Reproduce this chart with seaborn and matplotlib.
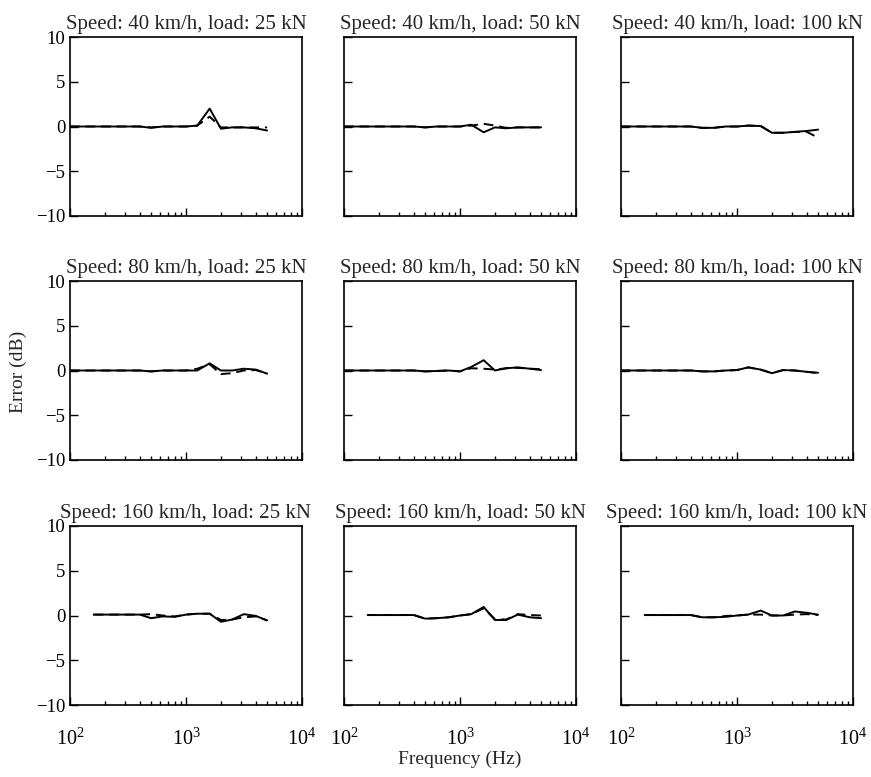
import numpy as np
import pandas as pd
import matplotlib
matplotlib.use("Agg")
import matplotlib.pyplot as plt
import matplotlib.ticker as mticker
import seaborn as sns

sns.set_style("ticks")
plt.rcParams['font.family'] = ['Liberation Serif', 'DejaVu Serif']
plt.rcParams['mathtext.fontset'] = 'stix'

freq_full = [100, 125, 160, 200, 250, 315, 400, 500, 630, 800, 1000, 1250,
             1600, 2000, 2500, 3150, 4000, 5000]
freq_160 = freq_full[2:]

speeds = [40, 80, 160]
loads = [25, 50, 100]

# solid / dashed series, per panel (row = speed, col = load)
s40_25_solid = [0, 0, 0, 0, 0, 0, 0, -0.15, 0, 0, 0, 0.1, 2.0, -0.25, -0.1, -0.1, -0.2, -0.45]
s40_25_dash = [0, 0, 0, 0, 0, 0, 0, -0.1, 0, 0, 0, 0.1, 1.1, -0.1, -0.1, -0.1, -0.1, -0.1]
s40_50_solid = [0, 0, 0, 0, 0, 0, 0, -0.1, 0, 0, 0, 0.2, -0.65, -0.1, -0.2, -0.1, -0.1, -0.1]
s40_50_dash = [0, 0, 0, 0, 0, 0, 0, -0.1, 0, 0, 0, 0.1, 0.3, 0.1, -0.15, -0.1, -0.1, -0.1]
s40_100_solid = [0, 0, 0, 0, 0, 0, 0, -0.15, -0.15, 0, 0, 0.1, 0.05, -0.7, -0.7, -0.6, -0.5, -0.35]
s40_100_dash = [0, 0, 0, 0, 0, 0, 0, -0.15, -0.15, 0, 0, 0.1, 0.05, -0.7, -0.7, -0.6, -0.6, -1.25]

s80_25_solid = [0, 0, 0, 0, 0, 0, 0, -0.1, 0, 0, 0, 0, 0.8, 0, 0, 0.2, 0.1, -0.35]
s80_25_dash = [0, 0, 0, 0, 0, 0, 0, -0.1, 0, 0, 0, 0.2, 0.7, -0.4, -0.3, 0, 0.05, -0.35]
s80_50_solid = [0, 0, 0, 0, 0, 0, 0, -0.1, -0.05, 0, -0.1, 0.4, 1.15, 0, 0.25, 0.35, 0.2, 0.05]
s80_50_dash = [0, 0, 0, 0, 0, 0, 0, -0.1, -0.05, 0, -0.1, 0.25, 0.2, 0.1, 0.25, 0.3, 0.2, 0.15]
s80_100_solid = [0, 0, 0, 0, 0, 0, 0, -0.1, -0.1, 0, 0.05, 0.35, 0.1, -0.3, 0.05, 0, -0.15, -0.25]
s80_100_dash = [0, 0, 0, 0, 0, 0, 0, -0.1, -0.1, 0, 0.05, 0.35, 0.1, -0.3, 0.05, 0, -0.15, -0.3]

s160_25_solid = [0.1, 0.1, 0.1, 0.1, 0.1, -0.3, -0.1, -0.15, 0.1, 0.2, 0.2, -0.7, -0.45, 0.15, -0.05, -0.55]
s160_25_dash = [0.1, 0.1, 0.1, 0.1, 0.1, 0.15, 0.0, -0.1, 0.1, 0.2, 0.2, -0.5, -0.45, -0.2, -0.1, -0.55]
s160_50_solid = [0.05, 0.05, 0.05, 0.05, 0.05, -0.35, -0.3, -0.2, 0, 0.15, 0.95, -0.5, -0.5, 0.1, -0.2, -0.3]
s160_50_dash = [0.05, 0.05, 0.05, 0.05, 0.05, -0.35, -0.3, -0.2, 0, 0.15, 0.8, -0.4, -0.45, 0.15, 0.05, 0.0]
s160_100_solid = [0.05, 0.05, 0.05, 0.05, 0.05, -0.2, -0.2, -0.15, 0, 0.1, 0.55, 0, 0, 0.45, 0.3, 0.1]
s160_100_dash = [0.05, 0.05, 0.05, 0.05, 0.05, -0.2, -0.2, -0.05, 0, 0.1, 0.1, 0, 0, 0.1, 0.15, 0.05]

panels = {
    (40, 25): (freq_full, s40_25_solid, s40_25_dash),
    (40, 50): (freq_full, s40_50_solid, s40_50_dash),
    (40, 100): (freq_full, s40_100_solid, s40_100_dash),
    (80, 25): (freq_full, s80_25_solid, s80_25_dash),
    (80, 50): (freq_full, s80_50_solid, s80_50_dash),
    (80, 100): (freq_full, s80_100_solid, s80_100_dash),
    (160, 25): (freq_160, s160_25_solid, s160_25_dash),
    (160, 50): (freq_160, s160_50_solid, s160_50_dash),
    (160, 100): (freq_160, s160_100_solid, s160_100_dash),
}

W, H = 871, 777
fig = plt.figure(figsize=(W / 100, H / 100), dpi=100)

col_left = [70, 344, 621]
col_w = 232
row_top = [37, 281, 526]
row_h = 179

fs_tick = 13.5
fs_title = 15
for i, sp in enumerate(speeds):
    for j, ld in enumerate(loads):
        x0 = col_left[j] / W
        y0 = 1 - (row_top[i] + row_h) / H
        ax = fig.add_axes([x0, y0, col_w / W, row_h / H])
        fr, solid, dash = panels[(sp, ld)]
        df = pd.DataFrame({
            "freq": list(fr) * 2,
            "err": list(solid) + list(dash),
            "series": ["solid"] * len(fr) + ["dashed"] * len(fr),
        })
        sns.lineplot(data=df, x="freq", y="err", style="series",
                     style_order=["solid", "dashed"],
                     dashes={"solid": "", "dashed": (5, 3)},
                     color="black", linewidth=1.4, legend=False, ax=ax,
                     estimator=None, sort=False)
        ax.set_xscale("log")
        ax.set_xlim(100, 10000)
        ax.set_ylim(-10, 10)
        ax.set_yticks([-10, -5, 0, 5, 10])
        ax.xaxis.set_major_locator(mticker.LogLocator(base=10, numticks=5))
        ax.xaxis.set_minor_locator(mticker.LogLocator(base=10, subs=np.arange(2, 10), numticks=20))
        ax.tick_params(which="both", direction="in", top=False, right=False,
                       labelsize=fs_tick, colors="black", width=1.0)
        ax.tick_params(which="major", length=6)
        ax.tick_params(which="minor", length=3)
        for s in ax.spines.values():
            s.set_visible(True)
            s.set_color("black")
            s.set_linewidth(1.2)
        ax.set_xlabel("")
        ax.set_ylabel("")
        if i < 2:
            ax.tick_params(axis="x", which="both", labelbottom=False)
        else:
            ax.xaxis.set_major_formatter(mticker.LogFormatterMathtext())
            ax.tick_params(axis="x", which="major", pad=17, labelsize=14.5)
        if j > 0:
            ax.tick_params(axis="y", labelleft=False)
        else:
            ax.set_yticklabels(["\u221210", "\u22125", "0", "5", "10"])
        ax.set_title(f"Speed: {sp} km/h, load: {ld} kN", fontsize=fs_title, pad=6)
        ax.set_facecolor("white")

fig.text(460 / W, 1 - 759 / H, "Frequency (Hz)", ha="center", va="center", fontsize=14)
fig.text(18 / W, 1 - 372 / H, "Error (dB)", ha="center", va="center", rotation=90, fontsize=14)

fig.savefig("out.png", dpi=100, facecolor="white")
